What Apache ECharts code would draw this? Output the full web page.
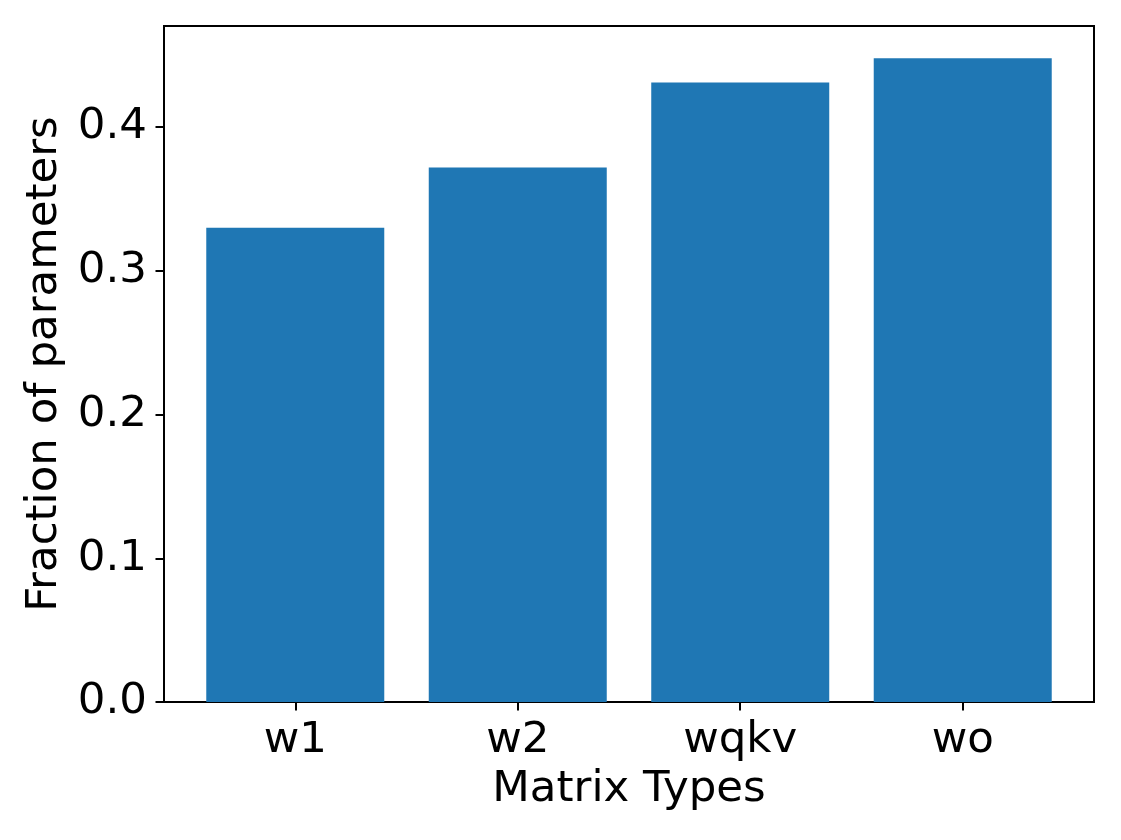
<!DOCTYPE html>
<html>
<head>
<meta charset="utf-8">
<script src="https://cdn.jsdelivr.net/npm/echarts@6/dist/echarts.min.js"></script>
<style>html,body{margin:0;padding:0;background:#fff}#c{width:1121px;height:840px}</style>
</head>
<body>
<div id="c"></div>
<script>
const categories = ['w1', 'w2', 'wqkv', 'wo'];
const fractions = [0.330, 0.372, 0.431, 0.448];
const yTicks = [0, 0.1, 0.2, 0.3, 0.4];
const xLabel = 'Matrix Types';
const yLabel = 'Fraction of parameters';

const chart = echarts.init(document.getElementById('c'), null, {renderer: 'canvas'});
const font = 'DejaVu Sans';
const fs = 43.5;
const idx = categories.map((_, i) => i);
chart.setOption({
  animation: false,
  backgroundColor: '#fff',
  grid: {left: 164, right: 27, top: 26, bottom: 138, show: true, borderColor: '#000', borderWidth: 2, backgroundColor: 'transparent'},
  xAxis: {
    type: 'value', min: -0.59, max: 3.59,
    name: xLabel, nameLocation: 'middle', nameGap: 64,
    nameTextStyle: {fontFamily: font, fontSize: fs, color: '#000'},
    axisLine: {show: true, onZero: false, lineStyle: {color: '#000', width: 2}},
    axisTick: {show: true, length: 8.5, lineStyle: {color: '#000', width: 2}, customValues: idx},
    axisLabel: {fontFamily: font, fontSize: fs, color: '#000', margin: 17, customValues: idx,
      formatter: v => categories[Math.round(v)] || ''},
    splitLine: {show: false}
  },
  yAxis: {
    type: 'value', min: 0, max: 0.4704,
    name: yLabel, nameLocation: 'middle', nameGap: 95,
    nameTextStyle: {fontFamily: font, fontSize: fs, color: '#000'},
    axisLine: {show: true, onZero: false, lineStyle: {color: '#000', width: 2}},
    axisTick: {show: true, length: 8.5, lineStyle: {color: '#000', width: 2}, customValues: yTicks},
    axisLabel: {fontFamily: font, fontSize: fs, color: '#000', margin: 17, customValues: yTicks,
      formatter: v => v.toFixed(1)},
    splitLine: {show: false}
  },
  series: [{
    type: 'bar',
    barWidth: 178,
    itemStyle: {color: '#1f77b4'},
    data: fractions.map((v, i) => [i, v])
  }]
});
</script>
</body>
</html>
